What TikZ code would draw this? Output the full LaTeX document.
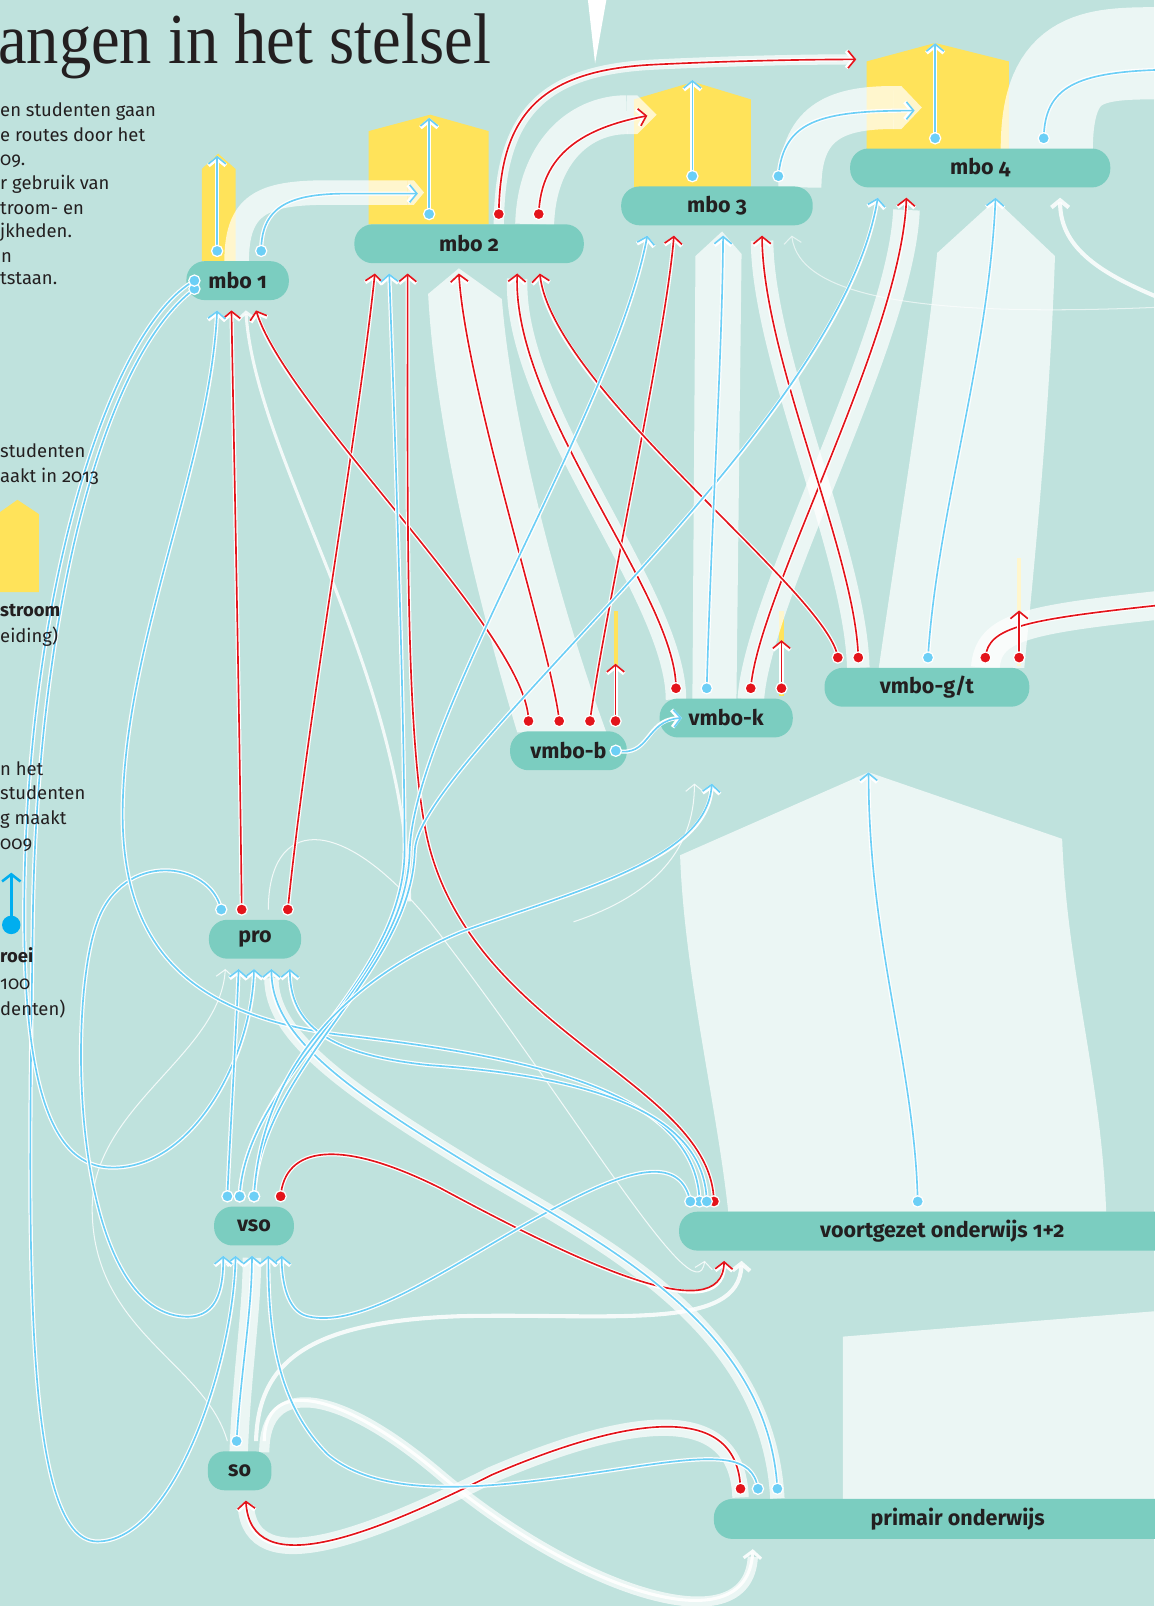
\documentclass[tikz,border=0pt]{standalone}
\usepackage{fontspec}
\setmainfont{Fira Sans}[Numbers=OldStyle]
\newfontfamily\titlefont{Liberation Serif}[FakeStretch=0.9]
\usetikzlibrary{arrows.meta}
\definecolor{bg}{HTML}{BFE2DD}
\definecolor{pill}{HTML}{7BCDC0}
\definecolor{yel}{HTML}{FFE35A}
\definecolor{cred}{HTML}{E3141B}
\definecolor{cblue}{HTML}{6CCFF6}
\definecolor{lblue}{HTML}{00AEEF}
\definecolor{ink}{HTML}{231F20}
\tikzset{
  pillnode/.style={fill=pill, rounded corners=18pt, minimum height=38pt, inner sep=0pt, outer ysep=10pt, text=ink, font=\fontsize{21}{25}\selectfont\bfseries},
  tip/.style={-{Straight Barb[length=7pt,width=17pt]}},
  conn/.style={line width=1.6pt, tip, preaction={draw=white, line width=4pt}},
  R/.style={conn, draw=cred},
  B/.style={conn, draw=cblue},
  rdot/.style={circle, fill=cred, draw=white, line width=1.2pt, inner sep=0pt, minimum size=11pt},
  bdot/.style={circle, fill=cblue, draw=white, line width=1.2pt, inner sep=0pt, minimum size=11pt},
  band/.style={draw=white, draw opacity=0.7, line width=#1},
  bandfill/.style={fill=white, fill opacity=0.7},
  wline/.style={draw=white, line width=#1, tip},
  para/.style={anchor=base west, inner sep=0pt, text=ink, font=\fontsize{18}{22}\selectfont},
  parab/.style={para, font=\fontsize{18}{22}\selectfont\bfseries},
}
\begin{document}
\begin{tikzpicture}[x=1pt,y=-1pt]
\useasboundingbox (0,0) rectangle (1127,1568);
\fill[bg] (0,0) rectangle (1127,1568);
\fill[white] (574,0) -- (592,0) -- (581,62) -- cycle;

% yellow houses
\fill[yel] (197,255) -- (197,165) -- (213,150) -- (230,165) -- (230,255) -- cycle;
\fill[yel] (360,219) -- (360,128) -- (420,112) -- (477,128) -- (477,219) -- cycle;
\fill[yel] (619,183) -- (619,97) -- (677,80) -- (733,97) -- (733,183) -- cycle;
\fill[yel] (846,146) -- (846,60) -- (913,42) -- (985,60) -- (985,146) -- cycle;
\fill[yel] (0,578) -- (0,500) -- (17,488) -- (38,502) -- (38,578) -- cycle;
\fill[yel] (599,597) rectangle (603,710);
\fill[yel] (761,597) rectangle (765,680);
\fill[yel] (993,545) rectangle (997,650);

% light bands
\draw[band=24pt] (231,256) .. controls (231,200) and (255,188) .. (320,188) -- (398,188);
\fill[bandfill] (398,176) -- (404,176) -- (414,188) -- (404,200) -- (398,200) -- cycle;
\draw[band=38pt] (522,219) .. controls (524,150) and (565,112) .. (612,112);
\fill[bandfill] (612,93) -- (622,93) -- (641,112) -- (622,131) -- (612,131) -- cycle;
\draw[band=42pt] (781,183) .. controls (781,120) and (815,105) .. (872,105);
\fill[bandfill] (872,84) -- (880,84) -- (900,105) -- (880,126) -- (872,126) -- cycle;
\draw[band=90pt] (1022,146) .. controls (1022,50) and (1070,52) .. (1140,52);
\draw[band=10pt] (487,219) .. controls (488,110) and (530,68) .. (640,63) .. controls (700,60) and (780,58) .. (830,58);
\fill[bandfill] (418,287) -- (448,262) -- (490,292) .. controls (500,420) and (550,600) .. (592,715) -- (505,715) .. controls (470,600) and (425,420) .. (418,287) -- cycle;
\fill[bandfill] (676,683) -- (679,250) -- (705,226) -- (724,248) -- (719,683) -- cycle;
\draw[band=20pt] (660,683) .. controls (660,580) and (500,400) .. (505,272);
\draw[band=22pt] (838,652) .. controls (835,540) and (745,350) .. (744,235);
\draw[band=26pt] (733,683) .. controls (740,580) and (880,330) .. (885,205);
\fill[bandfill] (858,652) .. controls (880,500) and (905,350) .. (915,247) -- (972,195) -- (1030,250) .. controls (1025,400) and (1010,550) .. (1000,652) -- cycle;
\draw[band=28pt] (962,652) .. controls (965,612) and (1000,605) .. (1140,590);
\fill[bandfill] (664,835) -- (848,754) -- (1037,819) .. controls (1042,950) and (1075,1050) .. (1080,1183) -- (711,1183) .. controls (700,1080) and (668,950) .. (664,835) -- cycle;
\fill[bandfill] (823,1305) -- (1130,1280) -- (1130,1465) -- (823,1465) -- cycle;
\draw[band=14pt] (759,1463) .. controls (750,1300) and (600,1220) .. (480,1150) .. controls (330,1060) and (265,1010) .. (265,955);
\draw[band=16pt] (723,1462) .. controls (720,1370) and (620,1380) .. (480,1440) .. controls (360,1500) and (245,1545) .. (240,1470);
\draw[band=18pt] (233,1418) .. controls (236,1340) and (246,1280) .. (246,1228);
\draw[band=10pt] (258,1418) .. controls (258,1345) and (330,1355) .. (430,1440) .. controls (560,1550) and (730,1610) .. (735,1520);

% nodes
\node[pillnode, minimum width=100pt] (mbo1) at (232,274) {mbo 1};
\node[pillnode, minimum width=224pt] (mbo2) at (458,238) {mbo 2};
\node[pillnode, minimum width=187pt] (mbo3) at (700,201) {mbo 3};
\node[pillnode, minimum width=254pt] (mbo4) at (957,164) {mbo 4};
\node[pillnode, minimum width=114pt] (vmbob) at (555,733) {vmbo-b};
\node[pillnode, minimum width=130pt] (vmbok) at (709,701) {vmbo-k};
\node[pillnode, minimum width=200pt] (vmbogt) at (905,671) {vmbo-g/t};
\node[pillnode, minimum width=90pt] (pro) at (249,917) {pro};
\node[pillnode, minimum width=78pt] (vso) at (248,1197) {vso};
\node[pillnode, minimum width=62pt, rounded corners=16pt] (so) at (234,1436) {so};
\node[pillnode, minimum width=514pt] (vo12) at (920,1202) {voortgezet onderwijs 1+2};
\node[pillnode, minimum width=476pt, minimum height=39pt] (po) at (935,1483) {primair onderwijs};

% free ends
\coordinate (y1) at (212,152);
\coordinate (y2) at (419,115);
\coordinate (y3) at (676,78);
\coordinate (y4) at (913,42);
\coordinate (t2a) at (408,189);
\coordinate (t3a) at (632,113);
\coordinate (t4a) at (836,58);
\coordinate (t4b) at (893,108);
\coordinate (r4) at (1140,68);
\coordinate (gtr) at (1140,590);
\coordinate (yb) at (601,648);
\coordinate (yk) at (763,625);
\coordinate (ygt) at (995,596);
\coordinate (kin) at (695,765);
\coordinate (kw) at (678,765);
\coordinate (gtin) at (848,754);

% thin white connectors
\draw[wline=3pt, draw opacity=0.8] (400,880) .. controls (395,650) and (250,450) .. (240,0 |- mbo1.south);
\draw[wline=1pt, draw opacity=0.8] (222,0 |- so.north) .. controls (200,1330) and (90,1300) .. (90,1180) .. controls (90,1080) and (215,1030) .. (220,0 |- pro.south);
\draw[wline=1pt, draw opacity=0.8] (262,0 |- pro.north) .. controls (262,800) and (330,790) .. (420,900) .. controls (560,1080) and (680,1290) .. (688,0 |- vo12.south);
\draw[wline=4pt, draw opacity=0.85] (250,0 |- so.north) .. controls (252,1330) and (300,1290) .. (450,1285) .. controls (600,1282) and (722,1300) .. (724,0 |- vo12.south);
\draw[wline=3pt, draw opacity=0.9] (258,0 |- so.north) .. controls (258,1345) and (330,1355) .. (430,1440) .. controls (560,1550) and (730,1610) .. (735,0 |- po.south);
\draw[wline=1pt, draw opacity=0.6] (1130,300) .. controls (900,310) and (780,290) .. (773,0 |- mbo3.south);
\draw[wline=4pt, draw opacity=0.85] (1130,290) .. controls (1070,265) and (1035,240) .. (1035,0 |- mbo4.south);
\draw[wline=1pt, draw opacity=0.8] (560,900) .. controls (650,870) and (678,820) .. (kw);

% red connectors
\draw[R] (236,0 |- pro.north) node[rdot]{} .. controls (234,700) and (228,420) .. (226,0 |- mbo1.south);
\draw[R] (281,0 |- pro.north) node[rdot]{} .. controls (300,700) and (350,420) .. (366,0 |- mbo2.south);
\draw[R] (516,0 |- vmbob.north) node[rdot]{} .. controls (516,620) and (280,400) .. (250,0 |- mbo1.south);
\draw[R] (546,0 |- vmbob.north) node[rdot]{} .. controls (540,640) and (455,380) .. (448,0 |- mbo2.south);
\draw[R] (576,0 |- vmbob.north) node[rdot]{} .. controls (590,600) and (650,330) .. (658,0 |- mbo3.south);
\draw[R] (601,0 |- vmbob.north) node[rdot]{} -- (yb);
\draw[R] (660,0 |- vmbok.north) node[rdot]{} .. controls (660,580) and (500,400) .. (505,0 |- mbo2.south);
\draw[R] (733,0 |- vmbok.north) node[rdot]{} .. controls (740,580) and (880,330) .. (885,0 |- mbo4.south);
\draw[R] (763,0 |- vmbok.north) node[rdot]{} -- (yk);
\draw[R] (818,0 |- vmbogt.north) node[rdot]{} .. controls (810,580) and (540,380) .. (527,0 |- mbo2.south);
\draw[R] (838,0 |- vmbogt.north) node[rdot]{} .. controls (835,540) and (745,350) .. (744,0 |- mbo3.south);
\draw[R] (962,0 |- vmbogt.north) node[rdot]{} .. controls (965,612) and (1000,605) .. (gtr);
\draw[R] (995,0 |- vmbogt.north) node[rdot]{} -- (ygt);
\draw[R] (697,0 |- vo12.north) node[rdot]{} .. controls (695,1060) and (470,1010) .. (420,830) .. controls (395,740) and (398,500) .. (398,0 |- mbo2.south);
\draw[R] (274,0 |- vso.north) node[rdot]{} .. controls (278,1120) and (330,1110) .. (430,1160) .. controls (560,1230) and (705,1300) .. (707,0 |- vo12.south);
\draw[R] (723,0 |- po.north) node[rdot]{} .. controls (720,1370) and (620,1380) .. (480,1440) .. controls (360,1500) and (245,1545) .. (240,0 |- so.south);
\draw[R] (487,0 |- mbo2.north) node[rdot]{} .. controls (488,110) and (530,68) .. (640,63) .. controls (700,60) and (780,58) .. (t4a);
\draw[R] (526,0 |- mbo2.north) node[rdot]{} .. controls (528,150) and (570,125) .. (t3a);

% blue connectors
\draw[B] (212,0 |- mbo1.north) node[bdot]{} -- (y1);
\draw[B] (255,0 |- mbo1.north) node[bdot]{} .. controls (255,200) and (285,189) .. (340,189) -- (t2a);
\draw[B] (419,0 |- mbo2.north) node[bdot]{} -- (y2);
\draw[B] (676,0 |- mbo3.north) node[bdot]{} -- (y3);
\draw[B] (760,0 |- mbo3.north) node[bdot]{} .. controls (765,118) and (800,108) .. (t4b);
\draw[B] (913,0 |- mbo4.north) node[bdot]{} -- (y4);
\draw[B] (1019,0 |- mbo4.north) node[bdot]{} .. controls (1020,85) and (1050,70) .. (r4);
\draw[B] ([xshift=8pt,yshift=-8pt]mbo1.west) node[bdot]{} .. controls (100,350) and (36,600) .. (32,900) .. controls (28,1200) and (20,1505) .. (95,1505) .. controls (170,1505) and (228,1330) .. (230,0 |- vso.south);
\draw[B] ([xshift=8pt]mbo1.west) node[bdot]{} .. controls (110,320) and (30,560) .. (24,860) .. controls (20,1060) and (50,1140) .. (110,1140) .. controls (190,1140) and (246,1030) .. (248,0 |- pro.south);
\draw[B] (216,0 |- pro.north) node[bdot]{} .. controls (205,840) and (120,830) .. (95,900) .. controls (65,980) and (70,1270) .. (175,1285) .. controls (212,1290) and (218,1260) .. (218,0 |- vso.south);
\draw[B] (222,0 |- vso.north) node[bdot]{} .. controls (225,1100) and (230,1020) .. (233,0 |- pro.south);
\draw[B] (683,0 |- vo12.north) node[bdot]{} .. controls (680,1060) and (500,1030) .. (330,1010) .. controls (180,990) and (115,920) .. (120,780) .. controls (125,620) and (205,450) .. (212,0 |- mbo1.south);
\draw[B] (690,0 |- vo12.north) node[bdot]{} .. controls (688,1080) and (560,1050) .. (420,1040) .. controls (320,1030) and (283,1000) .. (283,0 |- pro.south);
\draw[B] (674,0 |- vo12.north) node[bdot]{} .. controls (665,1130) and (620,1140) .. (560,1170) .. controls (460,1220) and (360,1300) .. (300,1285) .. controls (280,1280) and (275,1250) .. (275,0 |- vso.south);
\draw[B] (740,0 |- po.north) node[bdot]{} .. controls (735,1420) and (700,1420) .. (620,1432) .. controls (500,1450) and (380,1470) .. (320,1420) .. controls (270,1370) and (262,1300) .. (262,0 |- vso.south);
\draw[B] (759,0 |- po.north) node[bdot]{} .. controls (750,1300) and (600,1220) .. (480,1150) .. controls (330,1060) and (265,1010) .. (265,0 |- pro.south);
\draw[B] (231,0 |- so.north) node[bdot]{} .. controls (235,1340) and (246,1280) .. (246,0 |- vso.south);
\draw[B] (234,0 |- vso.north) node[bdot]{} .. controls (240,1050) and (395,960) .. (395,830) .. controls (395,700) and (385,400) .. (380,0 |- mbo2.south);
\draw[B] (234,0 |- vso.north) node[bdot]{} .. controls (240,1050) and (398,960) .. (400,830) .. controls (405,700) and (600,400) .. (632,0 |- mbo3.south);
\draw[B] (248,0 |- vso.north) node[bdot]{} .. controls (255,1040) and (402,950) .. (405,830) .. controls (410,740) and (820,420) .. (857,0 |- mbo4.south);
\draw[B] (248,0 |- vso.north) node[bdot]{} .. controls (255,1050) and (330,960) .. (450,910) .. controls (560,870) and (690,840) .. (kin);
\draw[B] (906,0 |- vmbogt.north) node[bdot]{} .. controls (915,500) and (965,350) .. (972,0 |- mbo4.south);
\draw[B] (690,0 |- vmbok.north) node[bdot]{} .. controls (695,500) and (705,350) .. (706,0 |- mbo3.south);
\draw[B] ([xshift=-11pt]vmbob.east) node[bdot]{} .. controls (635,740) and (630,703) .. ([xshift=22pt]vmbok.west);
\draw[B] (896,0 |- vo12.north) node[bdot]{} .. controls (893,1040) and (848,920) .. (gtin);

% legend arrow
\node[circle, fill=lblue, minimum size=18pt, inner sep=0pt] (lg) at (11,903) {};
\coordinate (lgt) at (11,852);
\draw[lblue, line width=2.5pt, -{Straight Barb[length=7pt,width=18pt]}] (lg.center) -- (lgt);

% texts
\node[anchor=base west, inner sep=0pt, text=ink, font=\titlefont\fontsize{70}{70}\selectfont] (title) at (-2,62) {angen in het stelsel};
\node[para] (p1) at (0,114) {en studenten gaan};
\node[para] (p2) at (0,138) {e routes door het};
\node[para] (p3) at (0,162) {09.};
\node[para] (p4) at (0,185) {r gebruik van};
\node[para] (p5) at (0,209) {troom- en};
\node[para] (p6) at (0,232) {jkheden.};
\node[para] (p7) at (1,256) {n};
\node[para] (p8) at (0,278) {tstaan.};
\node[para] (l1) at (0,447) {studenten};
\node[para] (l2) at (0,471) {aakt in 2013};
\node[parab] (l3) at (0,602) {stroom};
\node[para] (l4) at (0,627) {eiding)};
\node[para] (l5) at (0,757) {n het};
\node[para] (l6) at (0,781) {studenten};
\node[para] (l7) at (0,805) {g maakt};
\node[para] (l8) at (0,829) {009};
\node[parab] (l9) at (0,940) {roei};
\node[para] (l10) at (0,966) {100};
\node[para] (l11) at (0,991) {denten)};
\end{tikzpicture}
\end{document}
